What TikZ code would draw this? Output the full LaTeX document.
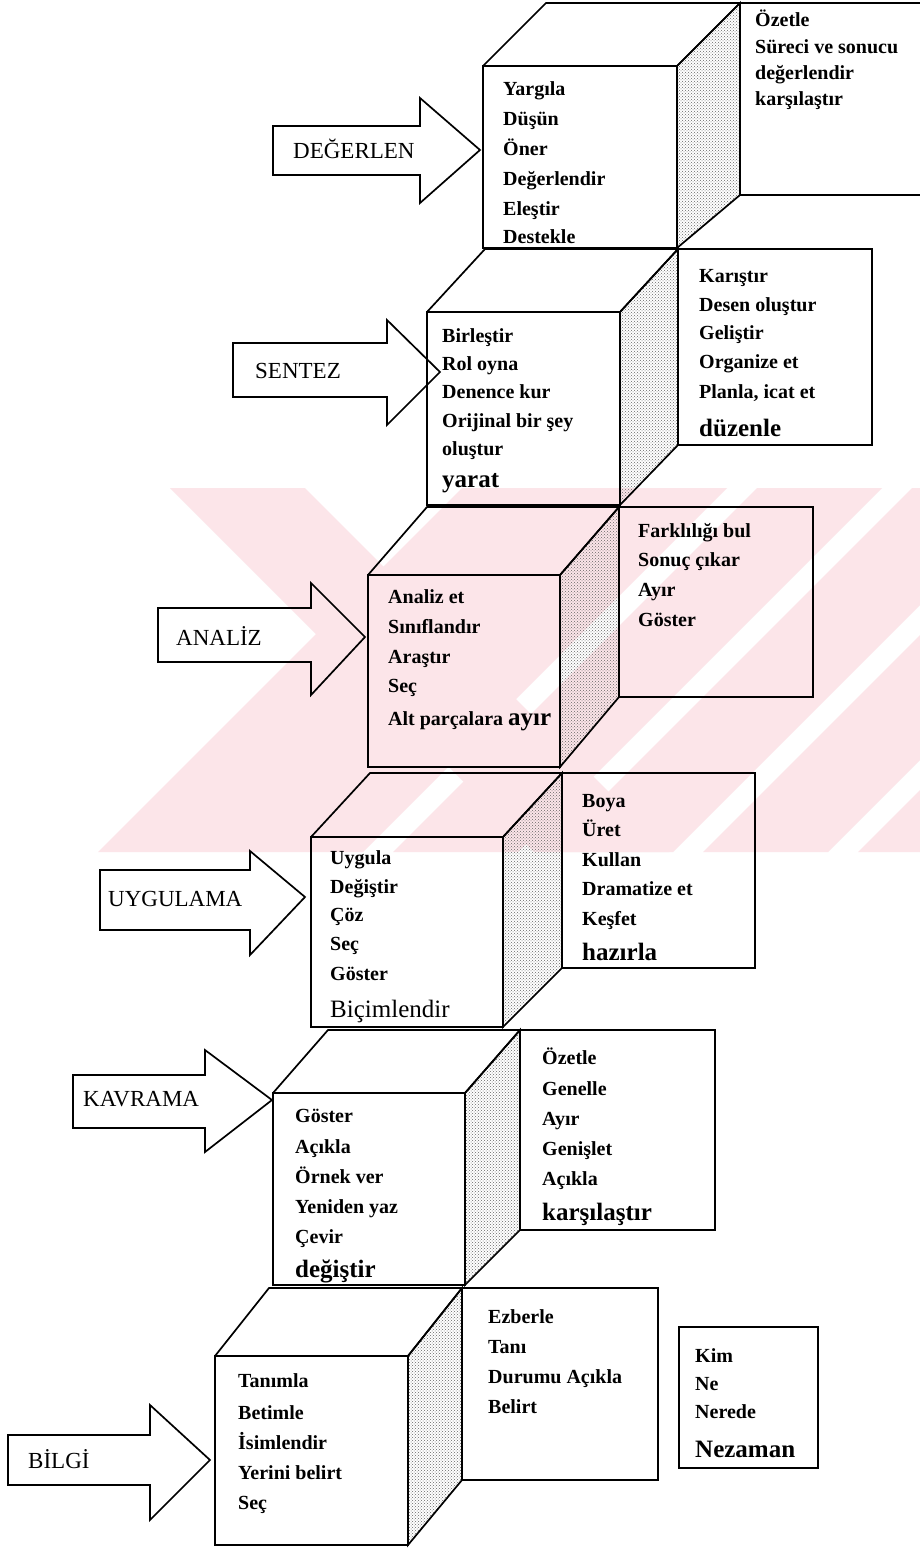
\documentclass[tikz,border=0pt]{standalone}
\usepackage{fontspec}
\setmainfont{Liberation Serif}
\usetikzlibrary{patterns}
\definecolor{wmpink}{RGB}{252,229,233}
\newcommand\bigtxt{\fontsize{25}{30}\selectfont}
% name, x1, y1, x2, y2, dx, back top y, back bottom y, box right x
\newcommand\cubelevel[9]{%
  \coordinate (#1ftl) at (#2,#3);
  \coordinate (#1ftr) at (#4,#3);
  \coordinate (#1fbr) at (#4,#5);
  \coordinate (#1fbl) at (#2,#5);
  \coordinate (#1btl) at ({#2+#6},#7);
  \coordinate (#1btr) at ({#4+#6},#7);
  \coordinate (#1bbr) at ({#4+#6},#8);
  \coordinate (#1xbr) at (#9,#8);
  \draw[ln,sideface] (#1ftr) -- (#1btr) -- (#1bbr) -- (#1fbr) -- cycle;
  \draw[ln] (#1ftl) -- (#1btl) -- (#1btr) -- (#1ftr);
  \draw[ln] (#1ftl) rectangle (#1fbr);
  \draw[ln] (#1btr) rectangle (#1xbr);
}
% name, x0, shaft top, shaft bottom, head base x, head top, head bottom, tip x, tip y
\newcommand\blockarrow[9]{%
  \draw[ln] (#2,#3) -- (#5,#3) -- (#5,#6) -- (#8,#9) -- (#5,#7) -- (#5,#4) -- (#2,#4) -- cycle;
}
\begin{document}
\begin{tikzpicture}[x=1pt,y=-1pt,line join=miter,
  ln/.style={line width=1.7pt,black},
  sideface/.style={pattern=crosshatch dots,pattern color=black!60},
  itm/.style={font=\fontsize{20}{24}\selectfont\bfseries,inner sep=0pt,anchor=base west},
  lbl/.style={font=\fontsize{23}{26}\selectfont,inner sep=0pt,anchor=base west}]
\useasboundingbox (0,0) rectangle (920,1550);
\clip (0,0) rectangle (920,1550);
\fill[white] (0,0) rectangle (920,1550);

% watermark
\begin{scope}
  \clip (0,488) rectangle (920,852);
  \fill[wmpink] (170,488) -- (305,488) -- (669,852) -- (534,852) -- cycle;
  \foreach \a/\b in {950/1215,1245/1370,1400/1525,1555/1680,1710/1835}
    \fill[wmpink] ({\a-852},852) -- ({\b-852},852) -- ({\b-488},488) -- ({\a-488},488) -- cycle;
\end{scope}

% cubes
\cubelevel{A}{483}{66}{677}{248}{63}{3}{195}{935}
\cubelevel{B}{427}{312}{620}{505}{58}{249}{445}{872}
\cubelevel{C}{368}{575}{560}{767}{59}{507}{697}{813}
\cubelevel{D}{311}{837}{503}{1027}{59}{773}{968}{755}
\cubelevel{E}{273}{1093}{465}{1285}{55}{1030}{1230}{715}
\cubelevel{F}{215}{1356}{408}{1545}{54}{1288}{1480}{658}
\draw[ln] (679,1327) rectangle (818,1468);

% arrows
\blockarrow{a1}{273}{126}{175}{420}{98}{203}{480}{150}
\blockarrow{a2}{233}{343}{397}{387}{320}{425}{440}{372}
\blockarrow{a3}{158}{608}{662}{311}{583}{695}{365}{637}
\blockarrow{a4}{100}{870}{930}{250}{851}{955}{305}{897}
\blockarrow{a5}{73}{1075}{1128}{205}{1050}{1152}{272}{1100}
\blockarrow{a6}{8}{1435}{1485}{150}{1405}{1520}{210}{1460}
\node[lbl] (lA) at (293,158) {DEĞERLEN};
\node[lbl] (lB) at (255,378) {SENTEZ};
\node[lbl] (lC) at (176,645) {ANALİZ};
\node[lbl] (lD) at (108,906) {UYGULAMA};
\node[lbl] (lE) at (83,1106) {KAVRAMA};
\node[lbl] (lF) at (28,1468) {BİLGİ};

% item lists
\foreach \yy/\txt [count=\i] in {95/Yargıla,125/Düşün,155/Öner,185/Değerlendir,215/Eleştir,243/Destekle}
  \node[itm] (Af-\i) at (503,\yy) {\txt};
\foreach \yy/\txt [count=\i] in {26/Özetle,53/Süreci ve sonucu,79/değerlendir,105/karşılaştır}
  \node[itm] (Ab-\i) at (755,\yy) {\txt};
\foreach \yy/\txt [count=\i] in {342/Birleştir,370/Rol oyna,398/Denence kur,427/Orijinal bir şey,455/oluştur,487/\bigtxt yarat}
  \node[itm] (Bf-\i) at (442,\yy) {\txt};
\foreach \yy/\txt [count=\i] in {282/Karıştır,311/Desen oluştur,339/Geliştir,368/Organize et,{398/Planla, icat et},436/\bigtxt düzenle}
  \node[itm] (Bb-\i) at (699,\yy) {\txt};
\foreach \yy/\txt [count=\i] in {603/Analiz et,633/Sınıflandır,663/Araştır,692/Seç,725/Alt parçalara {\bigtxt ayır}}
  \node[itm] (Cf-\i) at (388,\yy) {\txt};
\foreach \yy/\txt [count=\i] in {537/Farklılığı bul,566/Sonuç çıkar,596/Ayır,626/Göster}
  \node[itm] (Cb-\i) at (638,\yy) {\txt};
\foreach \yy/\txt [count=\i] in {864/Uygula,893/Değiştir,921/Çöz,950/Seç,980/Göster,1017/\bigtxt\mdseries Biçimlendir}
  \node[itm] (Df-\i) at (330,\yy) {\txt};
\foreach \yy/\txt [count=\i] in {807/Boya,836/Üret,866/Kullan,895/Dramatize et,925/Keşfet,960/\bigtxt hazırla}
  \node[itm] (Db-\i) at (582,\yy) {\txt};
\foreach \yy/\txt [count=\i] in {1122/Göster,1153/Açıkla,1183/Örnek ver,1213/Yeniden yaz,1243/Çevir,1277/\bigtxt değiştir}
  \node[itm] (Ef-\i) at (295,\yy) {\txt};
\foreach \yy/\txt [count=\i] in {1064/Özetle,1095/Genelle,1125/Ayır,1155/Genişlet,1185/Açıkla,1220/\bigtxt karşılaştır}
  \node[itm] (Eb-\i) at (542,\yy) {\txt};
\foreach \yy/\txt [count=\i] in {1387/Tanımla,1419/Betimle,1449/İsimlendir,1479/Yerini belirt,1509/Seç}
  \node[itm] (Ff-\i) at (238,\yy) {\txt};
\foreach \yy/\txt [count=\i] in {1323/Ezberle,1353/Tanı,1383/Durumu Açıkla,1413/Belirt}
  \node[itm] (Fb-\i) at (488,\yy) {\txt};
\foreach \yy/\txt [count=\i] in {1362/Kim,1390/Ne,1418/Nerede,1457/\bigtxt Nezaman}
  \node[itm] (K-\i) at (695,\yy) {\txt};
\end{tikzpicture}
\end{document}
